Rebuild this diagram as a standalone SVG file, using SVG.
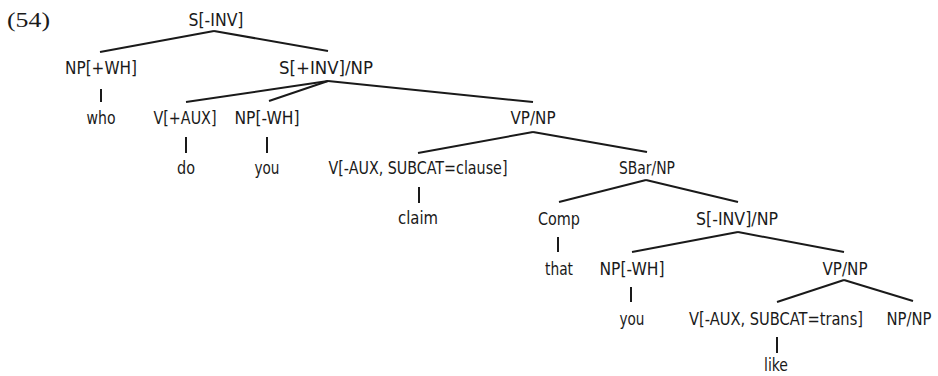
<svg xmlns="http://www.w3.org/2000/svg" width="938" height="376" viewBox="0 0 938 376">
<style>
text{font-family:"DejaVu Sans Condensed","Liberation Sans",Arial,sans-serif;font-size:18.5px;fill:#1a1a1a;text-anchor:middle}
.num{font-family:"Liberation Serif","Times New Roman",serif;font-size:21px;text-anchor:start}
.e line{stroke:#1a1a1a;stroke-width:2;stroke-linecap:butt}
</style>
<rect width="938" height="376" fill="#fff"/>
<text class="num" x="7" y="27" textLength="43" lengthAdjust="spacingAndGlyphs">(54)</text>
<g class="e" id="connectors">
<line x1="214" y1="31" x2="100" y2="52"/>
<line x1="214" y1="31" x2="328" y2="51"/>
<line x1="101" y1="89" x2="101" y2="102"/>
<line x1="328" y1="81" x2="186" y2="102"/>
<line x1="328" y1="81" x2="269" y2="101"/>
<line x1="328" y1="81" x2="533" y2="102"/>
<line x1="186" y1="137" x2="186" y2="153"/>
<line x1="267" y1="137" x2="267" y2="153"/>
<line x1="533" y1="132" x2="418" y2="153"/>
<line x1="533" y1="132" x2="647" y2="152"/>
<line x1="419" y1="187" x2="419" y2="203"/>
<line x1="646" y1="180" x2="559" y2="202"/>
<line x1="646" y1="180" x2="738" y2="202"/>
<line x1="558" y1="237" x2="558" y2="252"/>
<line x1="738" y1="232" x2="632" y2="252"/>
<line x1="738" y1="232" x2="844" y2="252"/>
<line x1="631" y1="287" x2="631" y2="302"/>
<line x1="844" y1="280" x2="777" y2="302"/>
<line x1="844" y1="280" x2="913" y2="301"/>
<line x1="777" y1="337" x2="777" y2="353"/>
</g>
<g id="n1"><text x="216" y="26" textLength="55" lengthAdjust="spacingAndGlyphs">S[-INV]</text></g>
<g id="n2"><text x="101" y="74" textLength="72" lengthAdjust="spacingAndGlyphs">NP[+WH]</text></g>
<g id="n3"><text x="326" y="74" textLength="94" lengthAdjust="spacingAndGlyphs">S[+INV]/NP</text></g>
<g id="n4"><text x="101" y="124" textLength="29" lengthAdjust="spacingAndGlyphs">who</text></g>
<g id="n5"><text x="185" y="124" textLength="63" lengthAdjust="spacingAndGlyphs">V[+AUX]</text></g>
<g id="n6"><text x="267" y="124" textLength="65" lengthAdjust="spacingAndGlyphs">NP[-WH]</text></g>
<g id="n7"><text x="533" y="124" textLength="45" lengthAdjust="spacingAndGlyphs">VP/NP</text></g>
<g id="n8"><text x="186" y="174" textLength="18" lengthAdjust="spacingAndGlyphs">do</text></g>
<g id="n9"><text x="267" y="174" textLength="25" lengthAdjust="spacingAndGlyphs">you</text></g>
<g id="n10"><text x="418" y="174" textLength="179" lengthAdjust="spacingAndGlyphs">V[-AUX, SUBCAT=clause]</text></g>
<g id="n11"><text x="647" y="174" textLength="56" lengthAdjust="spacingAndGlyphs">SBar/NP</text></g>
<g id="n12"><text x="418" y="224" textLength="40" lengthAdjust="spacingAndGlyphs">claim</text></g>
<g id="n13"><text x="559" y="225" textLength="42" lengthAdjust="spacingAndGlyphs">Comp</text></g>
<g id="n14"><text x="737" y="225" textLength="82" lengthAdjust="spacingAndGlyphs">S[-INV]/NP</text></g>
<g id="n15"><text x="559" y="275" textLength="28" lengthAdjust="spacingAndGlyphs">that</text></g>
<g id="n16"><text x="632" y="275" textLength="65" lengthAdjust="spacingAndGlyphs">NP[-WH]</text></g>
<g id="n17"><text x="845" y="275" textLength="45" lengthAdjust="spacingAndGlyphs">VP/NP</text></g>
<g id="n18"><text x="632" y="325" textLength="25" lengthAdjust="spacingAndGlyphs">you</text></g>
<g id="n19"><text x="776" y="325" textLength="174" lengthAdjust="spacingAndGlyphs">V[-AUX, SUBCAT=trans]</text></g>
<g id="n20"><text x="909" y="325" textLength="45" lengthAdjust="spacingAndGlyphs">NP/NP</text></g>
<g id="n21"><text x="776" y="371" textLength="24" lengthAdjust="spacingAndGlyphs">like</text></g>
</svg>
